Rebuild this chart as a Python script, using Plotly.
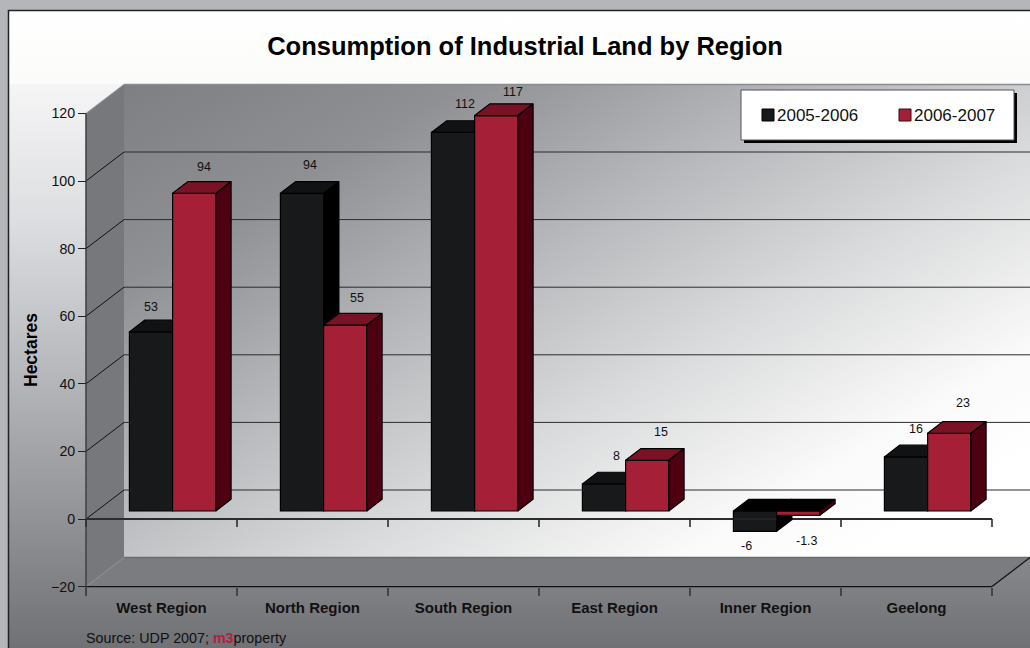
import base64
import plotly.graph_objects as go

# Chart data
regions = ["West Region", "North Region", "South Region", "East Region", "Inner Region", "Geelong"]
land_2005_06 = [53, 94, 112, 8, -6, 16]
land_2006_07 = [94, 55, 117, 15, -1.3, 23]
series_names = ["2005-2006", "2006-2007"]
y_ticks = [-20, 0, 20, 40, 60, 80, 100, 120]

# Page and scale geometry (pixels)
W, H = 1030, 648
AXIS_X0, CAT_PX = 86, 151
ZERO_Y, UNIT_PX = 519, 3.38
X_RANGE = [-AXIS_X0 / CAT_PX, (W - AXIS_X0) / CAT_PX]
Y_RANGE = [(ZERO_Y - H) / UNIT_PX, ZERO_Y / UNIT_PX]

# Oblique projection offsets, expressed in axis units
WALL_DX, WALL_DY = 38 / CAT_PX, 29 / UNIT_PX        # front edge to back wall
PLANE_DX, PLANE_DY = 11.1 / CAT_PX, 8 / UNIT_PX     # front edge to the bars' front face
BAR_DX, BAR_DY = 15.3 / CAT_PX, 11.7 / UNIT_PX      # bar depth
BAR_W = 43.2 / CAT_PX
BAR_START = 32.3 / CAT_PX

DARK = dict(front="#18191b", side="#000000", top="#111214")
RED = dict(front="#a52036", side="#4d0010", top="#7a1226")
EDGE = "#000000"
TEXT = "#111111"
FONT = "Liberation Sans, Arial, sans-serif"


def px_x(p):
    return p / W


def px_y(p):
    return 1 - p / H


def background_svg():
    back_l, back_r = AXIS_X0 + 38, W + 2
    back_t = ZERO_Y - 120 * UNIT_PX - 29
    back_b = ZERO_Y + 20 * UNIT_PX - 29
    svg = f"""<svg xmlns="http://www.w3.org/2000/svg" width="{W}" height="{H}" viewBox="0 0 {W} {H}">
<defs>
<linearGradient id="panel" x1="0" y1="84" x2="0" y2="{H}" gradientUnits="userSpaceOnUse">
<stop offset="0" stop-color="#f5f5f6"/><stop offset="0.25" stop-color="#dcdde0"/>
<stop offset="0.65" stop-color="#a3a4a8"/><stop offset="1" stop-color="#707175"/>
</linearGradient>
<linearGradient id="head" x1="0" y1="11" x2="0" y2="84" gradientUnits="userSpaceOnUse">
<stop offset="0" stop-color="#ffffff"/><stop offset="1" stop-color="#fbfbf9"/>
</linearGradient>
<linearGradient id="wall" x1="124" y1="84" x2="520" y2="757" gradientUnits="userSpaceOnUse">
<stop offset="0" stop-color="#7e7f83"/><stop offset="0.22" stop-color="#8f9094"/>
<stop offset="0.47" stop-color="#b9bbbe"/><stop offset="0.66" stop-color="#d9dadb"/>
<stop offset="0.88" stop-color="#fafafa"/><stop offset="1" stop-color="#ffffff"/>
</linearGradient>
</defs>
<rect width="{W}" height="{H}" fill="#b5b6ba"/>
<rect x="8" y="84" width="{W}" height="{H}" fill="url(#panel)"/>
<rect x="8" y="11" width="{W}" height="73" fill="url(#head)"/>
<path d="M8.5 {H} V10.5 H{W}" fill="none" stroke="#222222" stroke-width="1.5"/>
<rect x="{back_l}" y="{back_t}" width="{back_r - back_l}" height="{back_b - back_t}" fill="url(#wall)"/>
</svg>"""
    return "data:image/svg+xml;base64," + base64.b64encode(svg.encode()).decode()


def poly_trace(polys, fill, xa="x", ya="y", line_color=EDGE, line_width=1.2):
    xs, ys = [], []
    for poly in polys:
        xs += [p[0] for p in poly] + [poly[0][0], None]
        ys += [p[1] for p in poly] + [poly[0][1], None]
    return go.Scatter(x=xs, y=ys, mode="lines", fill="toself", fillcolor=fill,
                      line=dict(color=line_color, width=line_width), xaxis=xa, yaxis=ya,
                      hoverinfo="skip", showlegend=False)


def line_trace(points, color, width, xa="x", ya="y"):
    xs, ys = [], []
    for (a, b) in points:
        xs += [a[0], b[0], None]
        ys += [a[1], b[1], None]
    return go.Scatter(x=xs, y=ys, mode="lines", line=dict(color=color, width=width), xaxis=xa, yaxis=ya,
                      hoverinfo="skip", showlegend=False)


def bar_series(values, slot, colors, xa, ya):
    """Front faces as bars, with the side and top faces projected from the same values."""
    lefts = [i + BAR_START + PLANE_DX + slot * BAR_W for i in range(len(values))]
    traces = [go.Bar(x=[l + BAR_W / 2 for l in lefts], y=values, base=PLANE_DY, width=BAR_W,
                     marker=dict(color=colors["front"], line=dict(color=EDGE, width=1.2)),
                     xaxis=xa, yaxis=ya, hoverinfo="skip", showlegend=False)]
    sides, tops, capped, crossings = [], [], [], []
    for l, v in zip(lefts, values):
        r = l + BAR_W
        hi = PLANE_DY + max(v, 0)
        lo = PLANE_DY + min(v, 0)
        sides.append([(r, hi), (r + BAR_DX, hi + BAR_DY), (r + BAR_DX, lo + BAR_DY), (r, lo)])
        face = [(l, hi), (l + BAR_DX, hi + BAR_DY), (r + BAR_DX, hi + BAR_DY), (r, hi)]
        (tops if v >= 0 else capped).append(face)
        if lo < 0:
            crossings.append(((l, 0), (r, 0)))  # zero line shows faintly through a bar that crosses it
    traces.append(poly_trace(sides, colors["side"], xa, ya))
    traces.append(poly_trace(tops, colors["top"], xa, ya))
    traces.append(poly_trace(capped, "#000000", xa, ya))
    if crossings:
        traces.append(line_trace(crossings, "#2e2e30", 1, xa, ya))
    return traces


n = len(regions)
fig = go.Figure()

# Side wall and floor of the box
fig.add_trace(poly_trace([[(0, -20), (0, 120), (WALL_DX, 120 + WALL_DY), (WALL_DX, -20 + WALL_DY)]],
                         "#77787c", line_color="rgba(0,0,0,0)", line_width=0))
fig.add_trace(poly_trace([[(0, -20), (n, -20), (n + WALL_DX, -20 + WALL_DY), (WALL_DX, -20 + WALL_DY)]],
                         "#7b7c80", line_color="rgba(0,0,0,0)", line_width=0))

# Gridlines on the back wall with their returns across the side wall
grid_vals = [v for v in y_ticks if -20 < v < 120]
fig.add_trace(line_trace([((WALL_DX, v + WALL_DY), (X_RANGE[1], v + WALL_DY)) for v in grid_vals],
                         "#2b2b2d", 1))
fig.add_trace(line_trace([((0, v), (WALL_DX, v + WALL_DY)) for v in grid_vals], "#111111", 1))

# Box edges
fig.add_trace(line_trace([((WALL_DX, 120 + WALL_DY), (X_RANGE[1], 120 + WALL_DY))], "#8c8d91", 1.5))
fig.add_trace(line_trace([((WALL_DX, -20 + WALL_DY), (X_RANGE[1], -20 + WALL_DY))], "#6a6b6f", 1.5))
fig.add_trace(line_trace([((0, 120), (WALL_DX, 120 + WALL_DY)), ((0, -20), (WALL_DX, -20 + WALL_DY))],
                         "#929397", 1))
fig.add_trace(line_trace([((0, -20), (n, -20)), ((n, -20), (n + WALL_DX, -20 + WALL_DY))], "#111111", 1.2))
fig.add_trace(line_trace([((0, 120), (0, -20 - 8 / UNIT_PX))], "#444446", 1.6))

# Zero line and its category ticks
fig.add_trace(line_trace([((0, 0), (n, 0))], "#2c2c2e", 2))
fig.add_trace(line_trace([((i, 0), (i, -8 / UNIT_PX)) for i in range(n + 1)], "#2c2c2e", 1.6))

# Each series sits on its own overlay so the nearer faces cover the farther ones
for t in bar_series(land_2005_06, 0, DARK, "x2", "y2"):
    fig.add_trace(t)
for t in bar_series(land_2006_07, 1, RED, "x3", "y3"):
    fig.add_trace(t)

# Value labels, nudged off the bar ends
label_nudges = [
    [(0, 25), (8, 28), (12, 28), (12, 28), (-9, -15), (10, 28)],
    [(10, 26), (12, 27), (17, 24), (14, 28), (9, -26), (14, 30)],
]
annotations = []
for slot, values in enumerate([land_2005_06, land_2006_07]):
    for i, v in enumerate(values):
        cx = i + BAR_START + PLANE_DX + (slot + 0.5) * BAR_W
        nudge = label_nudges[slot][i]
        annotations.append(dict(x=cx, y=PLANE_DY + v, xref="x", yref="y", text=str(v), showarrow=False,
                                xshift=nudge[0], yshift=nudge[1], font=dict(size=12.5, color=TEXT, family=FONT)))

# Axis title, source line and legend text
annotations.append(dict(x=px_x(31), y=px_y(350), xref="paper", yref="paper", xanchor="center", yanchor="middle",
                        textangle=-90, showarrow=False,
                        text="<b>Hectares</b>", font=dict(size=17.5, color="#000000", family=FONT)))
annotations.append(dict(x=px_x(84), y=px_y(638), xref="paper", yref="paper", xanchor="left", yanchor="middle",
                        showarrow=False, font=dict(size=14.3, color=TEXT, family=FONT),
                        text="Source: UDP 2007; <b><span style='color:#b0233c'>m3</span></b>property"))
legend_text_px = [775, 912]
for name, lx in zip(series_names, legend_text_px):
    annotations.append(dict(x=px_x(lx), y=px_y(115.5), xref="paper", yref="paper", xanchor="left", yanchor="middle",
                            showarrow=False, text=name, font=dict(size=17, color=TEXT, family=FONT)))


def px_rect(x0, y0, x1, y1, fill, line="rgba(0,0,0,0)", width=0):
    return dict(type="rect", xref="paper", yref="paper", x0=px_x(x0), x1=px_x(x1), y0=px_y(y0), y1=px_y(y1),
                fillcolor=fill, line=dict(color=line, width=width), layer="above")


shapes = [
    px_rect(744, 93, 1017, 143, "#000000"),
    px_rect(741, 90, 1014, 140, "#ffffff", "#555558", 1),
    px_rect(762, 109, 774, 121, DARK["front"], "#000000", 1),
    px_rect(899, 109, 911, 121, RED["front"], "#3a0a12", 1),
]

hidden_axis = dict(visible=False, range=X_RANGE, overlaying="x", fixedrange=True)
hidden_yaxis = dict(visible=False, range=Y_RANGE, overlaying="y", fixedrange=True)

fig.update_layout(
    width=W, height=H, margin=dict(l=0, r=0, t=0, b=0, autoexpand=False),
    paper_bgcolor="rgba(0,0,0,0)", plot_bgcolor="rgba(0,0,0,0)",
    barmode="overlay", showlegend=False,
    title=dict(text="<b>Consumption of Industrial Land by Region</b>", x=525 / W, xanchor="center",
               y=px_y(46), yanchor="middle", font=dict(size=25.5, color="#000000", family=FONT)),
    xaxis=dict(range=X_RANGE, domain=[0, 1], anchor="free", position=(H - 586.6) / H, showgrid=False, zeroline=False,
               showline=False, tickmode="array", tickvals=[i + 0.5 for i in range(n)],
               ticktext=[f"<b>{r}</b>" for r in regions], ticks="outside", ticklen=7, tickcolor="rgba(0,0,0,0)",
               tickfont=dict(size=15, color=TEXT, family=FONT),
               minor=dict(tickmode="array", tickvals=list(range(n + 1)), ticks="outside", ticklen=8,
                          tickcolor="#444446", tickwidth=1.6, showgrid=False),
               fixedrange=True),
    yaxis=dict(range=Y_RANGE, domain=[0, 1], anchor="free", position=AXIS_X0 / W, showgrid=False, zeroline=False,
               showline=False, tickmode="array", tickvals=y_ticks, ticks="outside", ticklen=8, tickcolor="#222224",
               tickwidth=1.2, tickfont=dict(size=14.2, color=TEXT, family=FONT),
               fixedrange=True),
    xaxis2=hidden_axis, yaxis2=dict(hidden_yaxis),
    xaxis3=dict(hidden_axis), yaxis3=dict(hidden_yaxis),
    images=[dict(source=background_svg(), xref="paper", yref="paper", x=0, y=1, sizex=1, sizey=1,
                 sizing="stretch", xanchor="left", yanchor="top", layer="below")],
    shapes=shapes,
    annotations=annotations,
)

fig.write_html("out.html")
